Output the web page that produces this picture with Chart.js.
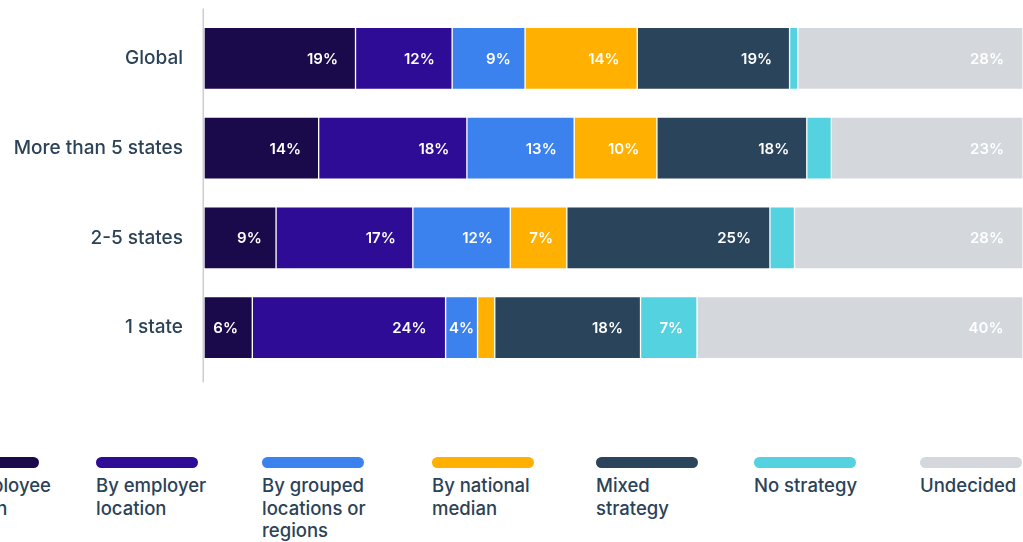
<!DOCTYPE html>
<html>
<head>
<meta charset="utf-8">
<title>Pay strategy by footprint</title>
<script src="https://cdn.jsdelivr.net/npm/chart.js@4/dist/chart.umd.min.js"></script>
<style>
  html, body { margin: 0; padding: 0; background: #fff; overflow: hidden; }
  body {
    position: relative;
    width: 1023px;
    height: 542px;
    font-family: Inter, "Noto Sans", sans-serif;
    color: #2b4257;
  }
  /* canvas sits a bit above the page: the y axis reserves half a label + padding on top */
  #chartBox { position: absolute; left: 0; top: -19px; width: 1023px; height: 424px; }
  #legend { position: absolute; left: 0; top: 457px; width: 1023px; height: 85px; }
  .item { position: absolute; top: 0; width: 114px; }
  .swatch { width: 102px; height: 11px; border-radius: 6px; }
  .label { margin-top: 6px; font-size: 18.5px; line-height: 22.5px; font-weight: 500; }
</style>
</head>
<body>
<div id="chartBox"><canvas id="strategyChart"></canvas></div>
<div id="legend"></div>

<script>
// ===== Pay strategy by geographic footprint =====

const categories = ["Global", "More than 5 states", "2-5 states", "1 state"];
const seriesNames = [
  "By employee location",
  "By employer location",
  "By grouped locations or regions",
  "By national median",
  "Mixed strategy",
  "No strategy",
  "Undecided"
];

// share of respondents, % (rows follow categories)
const employeeLocation = [18.5, 14.0, 8.8, 5.9];
const employerLocation = [11.8, 18.1, 16.7, 23.6];
const groupedRegions = [8.9, 13.1, 11.9, 3.9];
const nationalMedian = [13.7, 10.1, 6.9, 2.1];
const mixedStrategy = [18.6, 18.3, 24.8, 17.8];
const noStrategy = [1.0, 3.0, 3.0, 6.9];
const undecided = [27.5, 23.4, 27.9, 39.8];

const seriesValues = [
  employeeLocation, employerLocation, groupedRegions,
  nationalMedian, mixedStrategy, noStrategy, undecided
];
const colors = ["#1b0a4b", "#2e0c96", "#3b82ee", "#ffb000", "#2a445b", "#55d2df", "#d4d8dc"];

// legend columns (left edge of each item)
const legendLeft = [-63, 96, 262, 432, 596, 754, 920];

const TEXT = "#2b4257";

// white % labels near the right end of each segment
const segmentLabels = {
  id: "segmentLabels",
  afterDatasetsDraw(chart) {
    const ctx = chart.ctx;
    ctx.save();
    ctx.font = "600 15px Inter";
    ctx.fillStyle = "#ffffff";
    ctx.textAlign = "center";
    ctx.textBaseline = "middle";
    chart.data.datasets.forEach((ds, i) => {
      chart.getDatasetMeta(i).data.forEach((bar, j) => {
        const text = Math.round(ds.data[j]) + "%";
        const w = ctx.measureText(text).width;
        const left = Math.min(bar.base, bar.x);
        const right = Math.max(bar.base, bar.x);
        if (right - left < w + 6) return;
        let cx = right - w - 2;
        if (cx - w / 2 < left + 4) cx = (left + right) / 2;
        ctx.fillText(text, cx, bar.y + 1);
      });
    });
    ctx.restore();
  }
};

// category axis line, runs a little past the bars
const axisLine = {
  id: "axisLine",
  afterDraw(chart) {
    const { ctx, chartArea } = chart;
    ctx.save();
    ctx.strokeStyle = "#c9ced4";
    ctx.lineWidth = 1.5;
    ctx.beginPath();
    ctx.moveTo(chartArea.left - 0.75, chartArea.top - 5);
    ctx.lineTo(chartArea.left - 0.75, chartArea.bottom + 10);
    ctx.stroke();
    ctx.restore();
  }
};

const ctx = document.getElementById("strategyChart").getContext("2d");
new Chart(ctx, {
  type: "bar",
  data: {
    labels: categories,
    datasets: seriesNames.map((name, i) => ({
      label: name,
      data: seriesValues[i],
      backgroundColor: colors[i],
      borderColor: "rgba(255,255,255,0.14)",
      borderWidth: 1,
      borderSkipped: false,
      barThickness: 62
    }))
  },
  options: {
    indexAxis: "y",
    responsive: true,
    maintainAspectRatio: false,
    animation: false,
    layout: { padding: 0 },
    plugins: {
      legend: { display: false },
      tooltip: { enabled: false }
    },
    scales: {
      x: { stacked: true, min: 0, max: 100, display: false },
      y: {
        stacked: true,
        grid: { display: false, drawTicks: false },
        border: { display: false },
        ticks: {
          padding: 21,
          color: TEXT,
          font: { family: "Inter", size: 19, weight: 500 }
        },
        afterFit(scale) { scale.width = 204; }
      }
    }
  },
  plugins: [segmentLabels, axisLine]
});

// HTML legend: rounded bar above each wrapped name
const legend = document.getElementById("legend");
seriesNames.forEach((name, i) => {
  const item = document.createElement("div");
  item.className = "item";
  item.style.left = legendLeft[i] + "px";
  item.innerHTML = '<div class="swatch" style="background:' + colors[i] + '"></div>' +
    '<div class="label">' + name + '</div>';
  legend.appendChild(item);
});
</script>
</body>
</html>
